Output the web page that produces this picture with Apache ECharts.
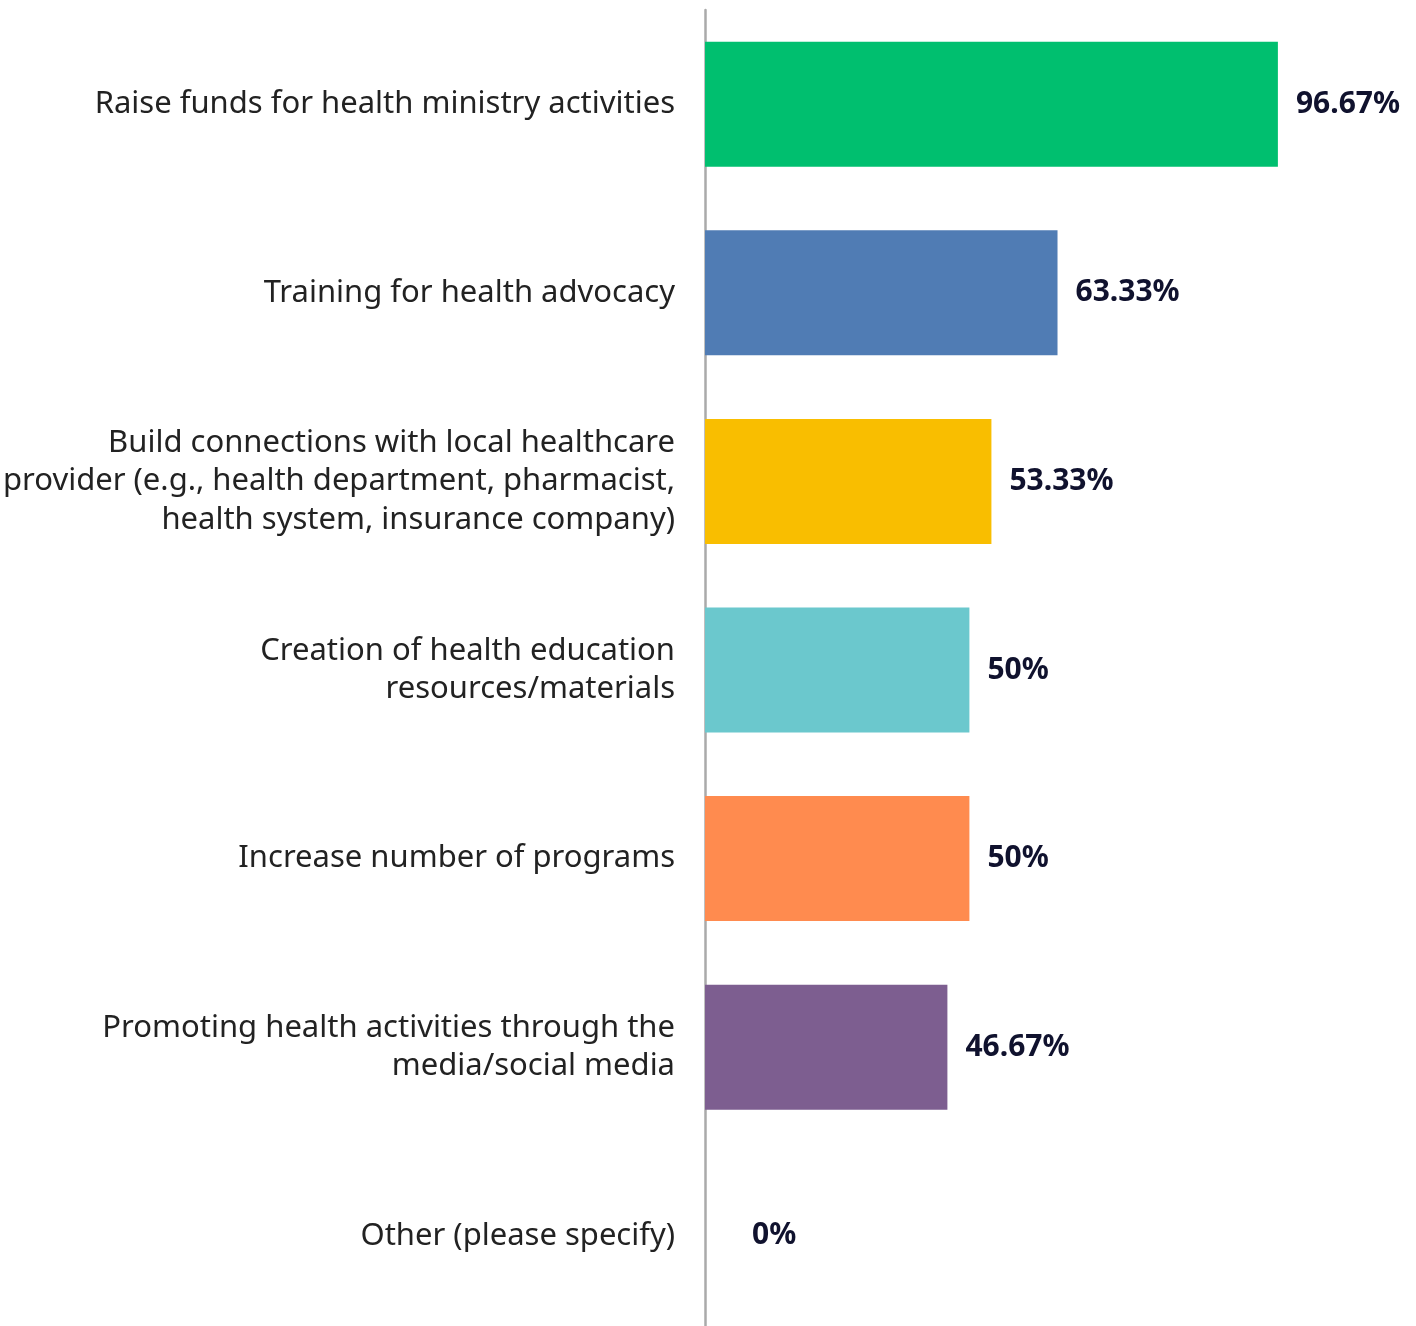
<!DOCTYPE html>
<html>
<head>
<meta charset="utf-8">
<script src="https://cdn.jsdelivr.net/npm/echarts@6/dist/echarts.min.js"></script>
<style>
  html, body { margin: 0; padding: 0; background: #fff; overflow: hidden; }
  #main { width: 1416px; height: 1330px; }
</style>
</head>
<body>
<div id="main"></div>
<script>
// categories, top to bottom
var categories = [
    'Raise funds for health ministry activities',
    'Training for health advocacy',
    'Build connections with local healthcare\nprovider (e.g., health department, pharmacist,\nhealth system, insurance company)',
    'Creation of health education\nresources/materials',
    'Increase number of programs',
    'Promoting health activities through the\nmedia/social media',
    'Other (please specify)'
];
var values = [96.67, 63.33, 53.33, 50, 50, 46.67, 0];
var colors = ['#00bf6f', '#507cb4', '#f9be00', '#6bc8cd', '#ff8b4f', '#7d5e90', '#aaaaaa'];

var dom = document.getElementById('main');
var myChart = echarts.init(dom);

var barData = values.map(function(v, i) {
    var item = {
        value: v,
        itemStyle: { color: colors[i] }
    };
    if (v === 0) {
        item.label = { offset: [29, 0] };
    }
    return item;
});

var option = {
    animation: false,
    grid: {
        left: 704,
        right: 50,
        top: 10,
        bottom: 0,
        containLabel: false
    },
    xAxis: {
        type: 'value',
        min: 10,
        max: 110,
        startValue: 10,
        show: false
    },
    yAxis: {
        type: 'category',
        inverse: true,
        data: categories,
        axisLine: {
            show: true,
            lineStyle: { color: '#aaaaaa', width: 2.5 }
        },
        axisTick: { show: false },
        axisLabel: {
            margin: 30,
            align: 'right',
            fontFamily: 'Noto Sans',
            fontSize: 31,
            lineHeight: 38.5,
            color: '#222222'
        }
    },
    series: [{
        type: 'bar',
        data: barData,
        barWidth: 125,
        label: {
            show: true,
            position: 'right',
            distance: 18,
            fontFamily: 'Noto Sans',
            fontWeight: 'bold',
            fontSize: 30,
            color: '#10122e',
            formatter: function(p) { return p.value + '%'; }
        }
    }]
};
myChart.setOption(option);
</script>
</body>
</html>
